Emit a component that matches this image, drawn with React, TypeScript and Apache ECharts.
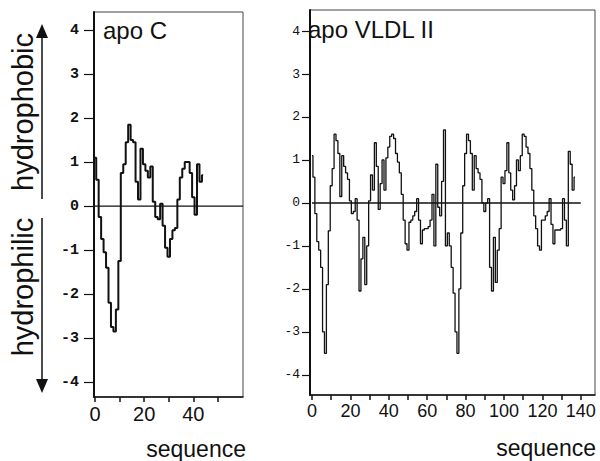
import React, { useEffect, useRef } from "react";
import * as echarts from "echarts";

// apo C hydropathy values (residue 0..44)
const apoC: number[] = [
  1.1, 0.6, -0.25, -0.75, -1.05, -1.4, -2.2, -2.75, -2.85, -2.35,
  -1.25, 0.75, 0.95, 1.45, 1.85, 1.5, 1.45, 0.55, 0.15, 1.3,
  0.95, 0.8, 0.65, 0.9, 0.1, -0.25, -0.3, 0.05, -0.45, -0.95,
  -1.15, -0.75, -0.55, -0.5, 0.15, 0.65, 0.85, 1.0, 1.0, 0.75,
  0.2, -0.2, 0.95, 0.55, 0.7,
];

// apo VLDL II hydropathy values (residue 0..137)
const apoVLDL: number[] = [
  1.1, 0.6, -0.25, -0.9, -1.1, -1.5, -3.0, -3.5, -1.9, -0.65,
  0.4, 0.8, 1.6, 1.45, 1.15, 0.15, 1.1, 0.85, 0.7, 0.55,
  0.05, -0.25, -0.2, 0.1, -0.4, -2.05, -1.3, -0.8, -1.9, -1.0,
  0.05, 0.65, 0.3, 1.4, 0.85, -0.15, 0.45, 1.0, 0.3, 1.05,
  1.3, 1.55, 1.6, 1.5, 1.15, 0.95, 0.7, 0.2, -0.4, -0.95,
  -1.1, -0.45, -0.4, -0.3, -0.2, 0.1, -0.4, -0.95, -0.63, -0.6,
  -0.6, -0.55, -0.4, 0.2, -1.0, 0.9, -0.1, -0.3, 0.5, 1.7,
  -1.0, -0.7, -1.0, -1.5, -2.1, -3.0, -3.5, -2.0, -0.7, 0.4,
  1.15, 1.6, 1.45, 1.15, 0.3, 1.1, 0.8, 0.7, 0.55, 0.0,
  -0.2, 0.0, 0.1, -1.5, -2.05, -0.8, -1.85, -1.1, -0.6, 0.6,
  0.45, 0.75, 1.4, 0.7, 0.3, 0.07, 0.4, 1.0, 0.75, 1.1,
  1.6, 1.55, 1.3, 1.15, 0.8, 0.3, -0.3, -0.6, -1.0, -1.1,
  -0.4, -0.4, -0.3, -0.2, 0.1, -0.5, -0.95, -0.63, -0.63, -0.63,
  -0.6, 0.1, -0.4, -1.0, 1.2, 0.9, 0.3, 0.6,
];

const yTicks = [-4, -3, -2, -1, 0, 1, 2, 3, 4];
const leftXTicks = [0, 10, 20, 30, 40, 50];
const leftXLabels = [0, 20, 40];
const rightXTicks = [0, 10, 20, 30, 40, 50, 60, 70, 80, 90, 100, 110, 120, 130, 140];
const rightXLabels = [0, 20, 40, 60, 80, 100, 120, 140];

const FONT = "Liberation Sans, Arial, sans-serif";
const MONO = "Liberation Mono, Courier New, monospace";
const INK = "#111";

export default function App() {
  const ref = useRef<HTMLDivElement>(null);
  useEffect(() => {
    if (!ref.current) return;
    const chart = echarts.init(ref.current, null, { renderer: "svg" });
    const xAxisCommon = (min: number, max: number, ticks: number[], labels: number[], fs: number, idx: number) => ({
      type: "value" as const,
      gridIndex: idx,
      min,
      max,
      splitLine: { show: false },
      axisLine: { show: true, onZero: false, lineStyle: { color: INK, width: 1.5 } },
      axisTick: { show: true, inside: false, length: 5, customValues: ticks, lineStyle: { color: INK, width: 1.5 } },
      axisLabel: { show: true, customValues: labels, fontSize: fs, fontFamily: FONT, color: INK, margin: 7 },
    });
    const yAxisCommon = (min: number, max: number, idx: number, tickLen: number, margin: number, fs: number, weight: string) => ({
      type: "value" as const,
      gridIndex: idx,
      min,
      max,
      splitLine: { show: false },
      axisLine: { show: true, onZero: false, lineStyle: { color: INK, width: 2 } },
      axisTick: { show: true, inside: false, length: tickLen, customValues: yTicks, lineStyle: { color: INK, width: 1.2 } },
      axisLabel: { show: true, customValues: yTicks, fontSize: fs, fontWeight: weight, fontFamily: MONO, color: INK, margin },
    });
    chart.setOption({
      animation: false,
      backgroundColor: "#fff",
      grid: [
        { left: 94, top: 12, width: 149, height: 385, show: true, borderColor: "#444", borderWidth: 1, backgroundColor: "transparent" },
        { left: 310, top: 10, width: 285, height: 385, show: true, borderColor: "#444", borderWidth: 1, backgroundColor: "transparent" },
      ],
      xAxis: [
        xAxisCommon(-0.4, 60.2, leftXTicks, leftXLabels, 20, 0),
        xAxisCommon(-1.04, 147.4, rightXTicks, rightXLabels, 18, 1),
      ],
      yAxis: [
        yAxisCommon(-4.34, 4.41, 0, 10, 15, 15, "bold"),
        yAxisCommon(-4.47, 4.49, 1, 8, 10, 13, "normal"),
      ],
      series: [
        {
          type: "line",
          xAxisIndex: 0,
          yAxisIndex: 0,
          data: [[-0.4, 0], [60.2, 0]],
          symbol: "none",
          lineStyle: { color: INK, width: 1.3 },
          silent: true,
        },
        {
          type: "line",
          xAxisIndex: 1,
          yAxisIndex: 1,
          data: [[0, 0], [140, 0]],
          symbol: "none",
          lineStyle: { color: INK, width: 1.5 },
          silent: true,
        },
        {
          type: "line",
          xAxisIndex: 0,
          yAxisIndex: 0,
          step: "middle",
          data: apoC.map((v, i) => [i, v]),
          symbol: "none",
          lineStyle: { color: INK, width: 2 },
        },
        {
          type: "line",
          xAxisIndex: 1,
          yAxisIndex: 1,
          step: "middle",
          data: apoVLDL.map((v, i) => [i, v]),
          symbol: "none",
          lineStyle: { color: INK, width: 1.3 },
        },
      ],
      graphic: [
        { type: "text", left: 103, top: 18, style: { text: "apo C", fontSize: 24, fontFamily: FONT, fill: INK } },
        { type: "text", left: 308, top: 17, style: { text: "apo VLDL II", fontSize: 24, fontFamily: FONT, fill: INK } },
        { type: "text", x: 246, y: 449, style: { text: "sequence", fontSize: 23, fontFamily: FONT, fill: INK, align: "right", verticalAlign: "middle" } },
        { type: "text", x: 596, y: 448, style: { text: "sequence", fontSize: 23, fontFamily: FONT, fill: INK, align: "right", verticalAlign: "middle" } },
        { type: "text", x: 23, y: 112, rotation: Math.PI / 2, style: { text: "hydrophobic", fontSize: 29, fontFamily: FONT, fill: INK, align: "center", verticalAlign: "middle" } },
        { type: "text", x: 23, y: 287, rotation: Math.PI / 2, style: { text: "hydrophilic", fontSize: 29, fontFamily: FONT, fill: INK, align: "center", verticalAlign: "middle" } },
        { type: "line", shape: { x1: 42, y1: 36, x2: 42, y2: 199 }, style: { stroke: INK, lineWidth: 1.5 } },
        { type: "polygon", shape: { points: [[42, 24], [36, 38], [48, 38]] }, style: { fill: INK } },
        { type: "line", shape: { x1: 42, y1: 218, x2: 42, y2: 381 }, style: { stroke: INK, lineWidth: 1.5 } },
        { type: "polygon", shape: { points: [[42, 393], [36, 379], [48, 379]] }, style: { fill: INK } },
      ],
    });
    return () => chart.dispose();
  }, []);
  return <div ref={ref} style={{ width: 600, height: 461, position: "absolute", left: 0, top: 0 }} />;
}
